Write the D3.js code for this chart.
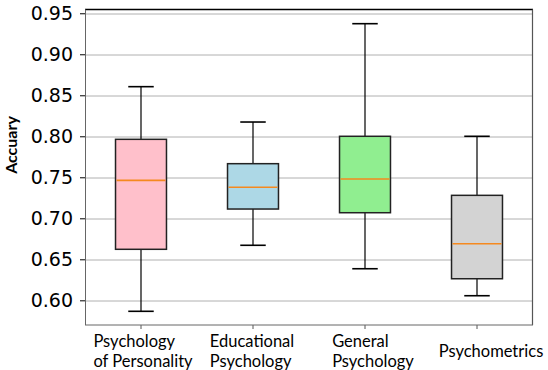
<!DOCTYPE html>
<html>
<head>
<meta charset="utf-8">
<script src="https://cdn.jsdelivr.net/npm/d3@7"></script>
<style>
  body { margin: 0; background: #fff; }
  svg { display: block; }
</style>
</head>
<body>
<svg id="chart"></svg>
<script>
// ---------- data ----------
var categories = ["Psychology\nof Personality", "Educational\nPsychology", "General\nPsychology", "Psychometrics"];
var whiskerLow  = [0.5866, 0.6671, 0.6385, 0.6056];
var q1          = [0.6622, 0.7113, 0.7068, 0.6263];
var medians     = [0.7463, 0.7378, 0.7479, 0.6690];
var q3          = [0.7963, 0.7666, 0.8000, 0.7280];
var whiskerHigh = [0.8605, 0.8174, 0.9373, 0.8000];
var boxColors   = ["#ffc0cb", "#add8e6", "#90ee90", "#d3d3d3"];
var yTicks      = [0.60, 0.65, 0.70, 0.75, 0.80, 0.85, 0.90, 0.95];

// ---------- layout ----------
var screen = {width: 548, height: 370};
var margins = {left: 85, right: 15, top: 9.5, bottom: 45};
var graph = {
  width: screen.width - margins.left - margins.right,
  height: screen.height - margins.top - margins.bottom
};
// label nudges (the labels in the original are not exactly centred)
var labelShift = [2, -1, 8, 14];

var svg = d3.select("#chart")
  .attr("width", screen.width)
  .attr("height", screen.height);

var xScale = d3.scaleBand()
  .domain(d3.range(categories.length))
  .range([0, graph.width])
  .padding(0);

var yScale = d3.scaleLinear()
  .domain([0.5699, 0.9546])
  .range([graph.height, 0]);

var target = svg.append("g")
  .attr("transform", "translate(" + margins.left + "," + margins.top + ")");

// grid
target.append("g")
  .selectAll("line")
  .data(yTicks)
  .enter()
  .append("line")
  .attr("x1", 0)
  .attr("x2", graph.width)
  .attr("y1", function(d) { return Math.round(yScale(d)) + 0.5; })
  .attr("y2", function(d) { return Math.round(yScale(d)) + 0.5; })
  .attr("stroke", "#b0b0b0")
  .attr("stroke-width", 1);

// y axis
var yAxis = d3.axisLeft(yScale)
  .tickValues(yTicks)
  .tickFormat(d3.format(".2f"))
  .tickSize(5)
  .tickPadding(7);
var yg = target.append("g").call(yAxis);
yg.select(".domain").remove();
yg.selectAll(".tick line").attr("stroke", "#000");
yg.selectAll(".tick text")
  .attr("font-family", "DejaVu Sans")
  .attr("font-size", 19)
  .attr("fill", "#000");

// x axis
var xAxis = d3.axisBottom(xScale)
  .tickSize(4)
  .tickFormat("");
var xg = target.append("g")
  .attr("transform", "translate(0," + graph.height + ")")
  .call(xAxis);
xg.select(".domain").remove();
xg.selectAll(".tick line").attr("stroke", "#555");

// category labels: left-aligned lines, block centred under tick
xg.selectAll(".tick").each(function(i) {
  var lines = categories[i].split("\n");
  var t = d3.select(this).append("text")
    .attr("font-family", "Lato")
    .attr("font-size", 16.5)
    .attr("fill", "#000")
    .attr("text-anchor", "start");
  var base = lines.length > 1 ? 21.7 : 31.7;
  lines.forEach(function(line, k) {
    t.append("tspan").attr("x", 0).attr("y", base + k * 20).text(line);
  });
  var w = d3.max(t.selectAll("tspan").nodes(), function(n) { return n.getComputedTextLength(); });
  t.selectAll("tspan").attr("x", -w / 2 + labelShift[i]);
});

// boxes
var bw = xScale.bandwidth() * 0.455;
var boxes = target.append("g")
  .selectAll("g")
  .data(categories)
  .enter()
  .append("g")
  .attr("transform", function(d, i) { return "translate(" + (xScale(i) + xScale.bandwidth() / 2) + ",0)"; });

// whiskers
boxes.append("line")
  .attr("x1", 0).attr("x2", 0)
  .attr("y1", function(d, i) { return yScale(whiskerHigh[i]); })
  .attr("y2", function(d, i) { return yScale(q3[i]); })
  .attr("stroke", "#000").attr("stroke-width", 1.2);
boxes.append("line")
  .attr("x1", 0).attr("x2", 0)
  .attr("y1", function(d, i) { return yScale(q1[i]); })
  .attr("y2", function(d, i) { return yScale(whiskerLow[i]); })
  .attr("stroke", "#000").attr("stroke-width", 1.2);

// caps
[whiskerHigh, whiskerLow].forEach(function(arr) {
  boxes.append("line")
    .attr("x1", -bw / 4).attr("x2", bw / 4)
    .attr("y1", function(d, i) { return yScale(arr[i]); })
    .attr("y2", function(d, i) { return yScale(arr[i]); })
    .attr("stroke", "#000").attr("stroke-width", 1.6);
});

// box
boxes.append("rect")
  .attr("x", -bw / 2)
  .attr("width", bw)
  .attr("y", function(d, i) { return yScale(q3[i]); })
  .attr("height", function(d, i) { return yScale(q1[i]) - yScale(q3[i]); })
  .attr("fill", function(d, i) { return boxColors[i]; })
  .attr("stroke", "#222")
  .attr("stroke-width", 1.5);

// median
boxes.append("line")
  .attr("x1", -bw / 2 + 1).attr("x2", bw / 2 - 1)
  .attr("y1", function(d, i) { return yScale(medians[i]); })
  .attr("y2", function(d, i) { return yScale(medians[i]); })
  .attr("stroke", "#f5891f").attr("stroke-width", 1.6);

// frame
target.append("line")
  .attr("x1", 0).attr("x2", graph.width).attr("y1", 0).attr("y2", 0)
  .attr("stroke", "#000").attr("stroke-width", 1.5);
target.append("line")
  .attr("x1", 0.5).attr("x2", 0.5).attr("y1", 0).attr("y2", graph.height)
  .attr("stroke", "#666").attr("stroke-width", 1);
target.append("line")
  .attr("x1", graph.width - 0.5).attr("x2", graph.width - 0.5).attr("y1", 0).attr("y2", graph.height)
  .attr("stroke", "#555").attr("stroke-width", 1.2);
target.append("line")
  .attr("x1", 0).attr("x2", graph.width).attr("y1", graph.height).attr("y2", graph.height)
  .attr("stroke", "#666").attr("stroke-width", 1);

// y label
svg.append("text")
  .attr("transform", "translate(16.5,145) rotate(-90)")
  .attr("text-anchor", "middle")
  .attr("font-family", "Lato")
  .attr("font-weight", "bold")
  .attr("font-size", 16)
  .attr("fill", "#000")
  .text("Accuary");
</script>
</body>
</html>
